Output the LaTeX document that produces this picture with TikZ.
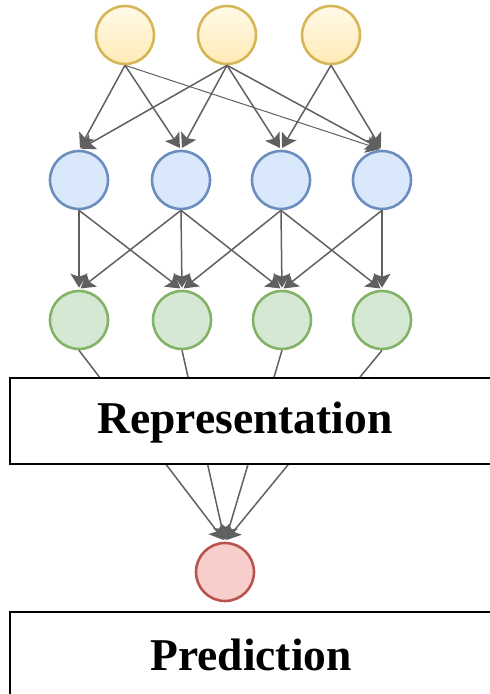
\documentclass[tikz,border=0pt]{standalone}
\usepackage{fontspec}
\setmainfont{Liberation Serif}
\usetikzlibrary{arrows.meta}
\definecolor{ytop}{HTML}{FFF9E8}
\definecolor{ybot}{HTML}{FFEBB5}
\definecolor{ydraw}{HTML}{D6B656}
\definecolor{bfill}{HTML}{DAE8FC}
\definecolor{bdraw}{HTML}{6C8EBF}
\definecolor{gfill}{HTML}{D5E8D4}
\definecolor{gdraw}{HTML}{82B366}
\definecolor{rfill}{HTML}{F8CECC}
\definecolor{rdraw}{HTML}{B85450}
\definecolor{edgecol}{HTML}{606060}
\begin{document}
\begin{tikzpicture}[x=1pt,y=-1pt,
  neuron/.style={circle, minimum size=58pt, inner sep=0pt, line width=2.6pt},
  yneuron/.style={neuron, draw=ydraw, top color=ytop, bottom color=ybot},
  bneuron/.style={neuron, draw=bdraw, fill=bfill},
  gneuron/.style={neuron, draw=gdraw, fill=gfill},
  rneuron/.style={neuron, draw=rdraw, fill=rfill},
  link/.style={draw=edgecol, line width=1.5pt, shorten >=2pt, -{Stealth[length=14pt,width=17pt,inset=3pt]}},
  panel/.style={draw=black, fill=white, line width=2.6pt, inner sep=0pt},
  paneltext/.style={font=\bfseries\fontsize{45.5}{50}\selectfont, inner sep=0pt}
]
\useasboundingbox (0,0) rectangle (490,694);

% input layer
\node[yneuron] (y1) at (125,35) {};
\node[yneuron] (y2) at (227,35) {};
\node[yneuron] (y3) at (331,35) {};
% hidden layer 1
\node[bneuron] (b1) at (79,180) {};
\node[bneuron] (b2) at (181,180) {};
\node[bneuron] (b3) at (281,180) {};
\node[bneuron] (b4) at (382,180) {};
% hidden layer 2
\node[gneuron] (g1) at (79,320) {};
\node[gneuron] (g2) at (182,320) {};
\node[gneuron] (g3) at (282,320) {};
\node[gneuron] (g4) at (382,320) {};
% output
\node[rneuron] (r) at (225,572) {};

% input -> hidden 1
\draw[link] (y1.south) -- (b1.north);
\draw[link] (y1.south) -- (b2.north);
\draw[link, line width=1pt] (y1.south) -- (b4.north);
\draw[link] (y2.south) -- (b1.north);
\draw[link] (y2.south) -- (b2.north);
\draw[link] (y2.south) -- (b3.north);
\draw[link] (y2.south) -- (b4.north);
\draw[link] (y3.south) -- (b3.north);
\draw[link] (y3.south) -- (b4.north);

% hidden 1 -> hidden 2
\draw[link] (b1.south) -- (g1.north);
\draw[link] (b1.south) -- (g2.north);
\draw[link] (b2.south) -- (g1.north);
\draw[link] (b2.south) -- (g2.north);
\draw[link] (b2.south) -- (g3.north);
\draw[link] (b3.south) -- (g2.north);
\draw[link] (b3.south) -- (g3.north);
\draw[link] (b3.south) -- (g4.north);
\draw[link] (b4.south) -- (g3.north);
\draw[link] (b4.south) -- (g4.north);

% hidden 2 -> output
\draw[link] (g1.south) -- (r.north);
\draw[link] (g2.south) -- (r.north);
\draw[link] (g3.south) -- (r.north);
\draw[link] (g4.south) -- (r.north);

% panels
\node[panel, minimum width=500pt, minimum height=86pt] (repbox) at (260,421) {};
\node[paneltext] (reptext) at (245,423) {Representation};
\node[panel, minimum width=500pt, minimum height=110pt] (predbox) at (260,667) {};
\node[paneltext] (predtext) at (251,655) {Prediction};
\end{tikzpicture}
\end{document}
